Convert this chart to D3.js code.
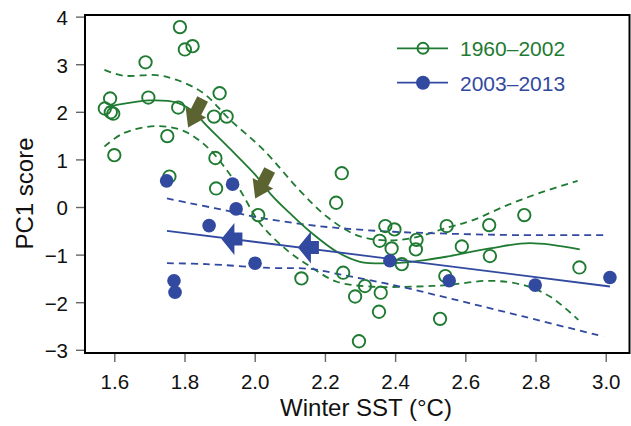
<!DOCTYPE html>
<html><head><meta charset="utf-8">
<script src="https://cdn.jsdelivr.net/npm/d3@7"></script>
<style>
body{margin:0;background:#fff}
svg{display:block}
text{font-family:"Liberation Sans",Arial,Helvetica,sans-serif}
</style>
</head><body>
<svg id="chart" width="631" height="426"></svg>
<script>
// ---- data ----
const xTicks = [1.6, 1.8, 2.0, 2.2, 2.4, 2.6, 2.8, 3.0];
const yTicks = [-3, -2, -1, 0, 1, 2, 3, 4];
const seriesNames = ["1960–2002", "2003–2013"];
const xTitle = "Winter SST (°C)";
const yTitle = "PC1 score";

const earlySST = [1.787,1.801,1.823,1.689,1.900,1.588,1.697,1.573,1.590,1.597,1.782,1.884,1.920,1.751,1.600,1.888,1.757,1.890,2.010,2.248,2.232,2.372,2.398,2.356,2.390,2.461,2.459,2.419,2.547,2.543,2.133,2.252,2.314,2.286,2.359,2.354,2.528,2.297,2.668,2.768,2.590,2.670,2.925];
const earlyPC1 = [3.78,3.31,3.38,3.04,2.39,2.28,2.30,2.07,1.99,1.96,2.09,1.90,1.90,1.49,1.09,1.03,0.64,0.39,-0.17,0.71,0.09,-0.40,-0.47,-0.71,-0.87,-0.69,-0.89,-1.20,-0.40,-1.45,-1.50,-1.38,-1.66,-1.88,-1.80,-2.20,-2.35,-2.82,-0.38,-0.17,-0.83,-1.03,-1.27];

const lateSST = [1.749,1.937,1.947,1.870,2.001,1.770,1.773,2.385,2.554,2.799,3.012];
const latePC1 = [0.55,0.48,-0.04,-0.39,-1.18,-1.55,-1.79,-1.13,-1.55,-1.64,-1.48];

// smoother (1960–2002) and its confidence band
const earlyFit = [[1.577,2.09],[1.62,2.16],[1.70,2.24],[1.78,2.19],[1.835,1.95],[1.853,1.79],[1.93,1.22],[2.006,0.64],[2.048,0.25],[2.10,-0.13],[2.158,-0.52],[2.234,-0.94],[2.30,-1.15],[2.395,-1.18],[2.49,-1.11],[2.556,-1.03],[2.67,-0.87],[2.784,-0.76],[2.926,-0.89]];
const earlyUpper = [[1.572,2.88],[1.626,2.76],[1.72,2.77],[1.778,2.67],[1.854,2.39],[1.93,1.83],[2.025,1.20],[2.129,0.34],[2.205,-0.20],[2.29,-0.59],[2.37,-0.70],[2.45,-0.65],[2.55,-0.43],[2.62,-0.28],[2.72,0.04],[2.81,0.29],[2.92,0.55]];
const earlyLower = [[1.572,1.27],[1.626,1.55],[1.72,1.70],[1.797,1.60],[1.863,1.27],[1.92,0.78],[1.958,0.36],[2.015,-0.34],[2.091,-0.90],[2.158,-1.25],[2.234,-1.57],[2.329,-1.67],[2.462,-1.67],[2.547,-1.64],[2.67,-1.55],[2.765,-1.64],[2.841,-1.88],[2.922,-2.37]];

// linear fit (2003–2013) and its confidence band
const lateFit = [[1.75,-0.50],[3.012,-1.67]];
const lateUpper = [[1.75,0.18],[1.816,0.08],[1.91,-0.06],[2.01,-0.22],[2.158,-0.38],[2.253,-0.45],[2.395,-0.52],[2.55,-0.56],[2.75,-0.59],[3.003,-0.59]];
const lateLower = [[1.75,-1.18],[1.863,-1.20],[2.044,-1.28],[2.158,-1.30],[2.252,-1.43],[2.395,-1.64],[2.556,-1.92],[2.765,-2.30],[2.993,-2.72]];

// direction arrows (centres, data units)
const earlyArrows = [[1.831,1.97],[2.022,0.48]];
const lateArrows = [[1.935,-0.67],[2.153,-0.85]];

// ---- layout ----
const plot = {left:85, right:629.5, top:15, bottom:353};
const green = "#1f7a32", blue = "#3249a0", olive = "#5b6430";

const svg = d3.select("#chart");
const x = d3.scaleLinear().domain([1.5165, 3.0677]).range([plot.left, plot.right]);
const y = d3.scaleLinear().domain([-3.067, 4.034]).range([plot.bottom, plot.top]);

// axes
const xAxis = svg.append("g").attr("transform", `translate(0,${plot.bottom})`)
  .call(d3.axisBottom(x).tickValues(xTicks).tickSize(9).tickPadding(12).tickFormat(d3.format(".1f")));
const yAxis = svg.append("g").attr("transform", `translate(${plot.left},0)`)
  .call(d3.axisLeft(y).tickValues(yTicks).tickSize(9).tickPadding(8).tickFormat(d3.format("d")));
[xAxis, yAxis].forEach(g => {
  g.select(".domain").remove();
  g.selectAll(".tick line").attr("stroke", "#666").attr("stroke-width", 1.4);
  g.selectAll(".tick text").attr("fill", "#111").style("font-size", "20.5px")
    .style("font-family", '"Liberation Sans",Arial,sans-serif');
});
yAxis.selectAll(".tick text").attr("dy", "0.38em");

// frame
svg.append("rect").attr("x", plot.left).attr("y", plot.top)
  .attr("width", plot.right - plot.left).attr("height", plot.bottom - plot.top)
  .attr("fill", "none").attr("stroke", "#000").attr("stroke-width", 2);

// titles
svg.append("text").attr("x", 366).attr("y", 416).attr("text-anchor", "middle")
  .style("font-size", "24px").attr("fill", "#111").text(xTitle);
svg.append("text").attr("transform", "translate(32.5,193.5) rotate(-90)").attr("text-anchor", "middle")
  .style("font-size", "24px").attr("fill", "#111").text(yTitle);

// lines
const curve = d3.line().x(d => x(d[0])).y(d => y(d[1])).curve(d3.curveCatmullRom.alpha(0.5));
const straight = d3.line().x(d => x(d[0])).y(d => y(d[1]));
const dash = "7,5";

svg.append("path").attr("d", curve(earlyUpper)).attr("fill","none").attr("stroke",green).attr("stroke-width",1.8).attr("stroke-dasharray",dash);
svg.append("path").attr("d", curve(earlyLower)).attr("fill","none").attr("stroke",green).attr("stroke-width",1.8).attr("stroke-dasharray",dash);
svg.append("path").attr("d", curve(lateUpper)).attr("fill","none").attr("stroke",blue).attr("stroke-width",1.8).attr("stroke-dasharray",dash);
svg.append("path").attr("d", curve(lateLower)).attr("fill","none").attr("stroke",blue).attr("stroke-width",1.8).attr("stroke-dasharray",dash);
svg.append("path").attr("d", curve(earlyFit)).attr("fill","none").attr("stroke",green).attr("stroke-width",1.8);
svg.append("path").attr("d", straight(lateFit)).attr("fill","none").attr("stroke",blue).attr("stroke-width",1.8);

// points
svg.append("g").selectAll("circle").data(earlySST.map((v,i)=>[v, earlyPC1[i]])).join("circle")
  .attr("cx", d => x(d[0])).attr("cy", d => y(d[1])).attr("r", 6.2)
  .attr("fill", "none").attr("stroke", green).attr("stroke-width", 1.9);
svg.append("g").selectAll("circle").data(lateSST.map((v,i)=>[v, latePC1[i]])).join("circle")
  .attr("cx", d => x(d[0])).attr("cy", d => y(d[1])).attr("r", 6.8)
  .attr("fill", blue);

// arrows
function arrowPts(cx, cy, angDeg, L, Lh, Wd, Wt) {
  const a = angDeg * Math.PI / 180, fx = Math.cos(a), fy = Math.sin(a), px = -fy, py = fx;
  const local = [[L/2,0],[L/2-Lh,Wd/2],[L/2-Lh,Wt/2],[-L/2,Wt/2],[-L/2,-Wt/2],[L/2-Lh,-Wt/2],[L/2-Lh,-Wd/2]];
  return local.map(([u,v]) => [cx + u*fx + v*px, cy + u*fy + v*py].join(",")).join(" ");
}
svg.append("g").selectAll("polygon").data(earlyArrows).join("polygon")
  .attr("points", d => arrowPts(x(d[0]), y(d[1]), 117, 32, 17, 23, 12)).attr("fill", olive);
svg.append("g").selectAll("polygon").data(lateArrows).join("polygon")
  .attr("points", d => arrowPts(x(d[0]), y(d[1]), 180, 21, 13, 32, 13)).attr("fill", blue);

// legend
const legend = svg.append("g");
const legY = [48.3, 82.7];
const legColors = [green, blue];
seriesNames.forEach((name, i) => {
  const g = legend.append("g");
  g.append("line").attr("x1", 397).attr("x2", 448).attr("y1", legY[i]).attr("y2", legY[i])
    .attr("stroke", legColors[i]).attr("stroke-width", 1.8);
  if (i === 0) g.append("circle").attr("cx", 423).attr("cy", legY[i]).attr("r", 5.5)
    .attr("fill", "none").attr("stroke", green).attr("stroke-width", 1.9);
  else g.append("circle").attr("cx", 423).attr("cy", legY[i]).attr("r", 7).attr("fill", blue);
  g.append("text").attr("x", 460).attr("y", legY[i] + 7.8).style("font-size", "21px")
    .attr("fill", legColors[i]).text(name);
});
</script>
</body></html>
